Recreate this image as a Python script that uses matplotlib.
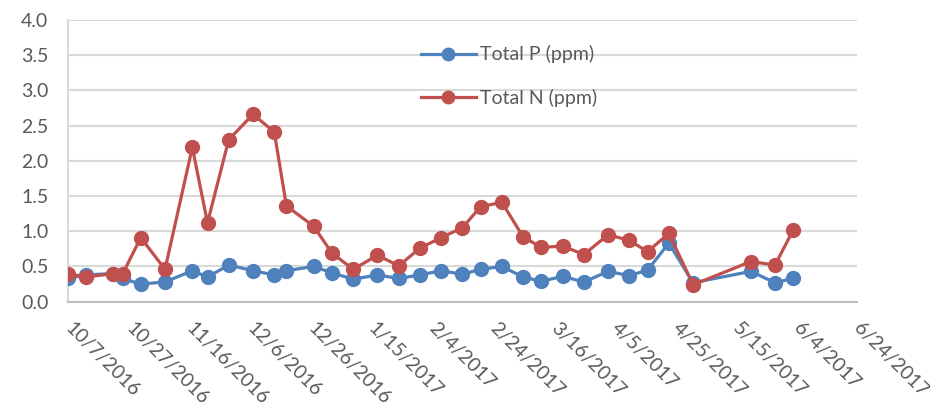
import matplotlib
matplotlib.use("Agg")
import matplotlib.pyplot as plt
import pandas as pd
import numpy as np

# sampling dates
dates = ["2016-10-07", "2016-10-13", "2016-10-22", "2016-10-25", "2016-10-31",
         "2016-11-08", "2016-11-17", "2016-11-22", "2016-11-29", "2016-12-07",
         "2016-12-14", "2016-12-18", "2016-12-27", "2017-01-02", "2017-01-09",
         "2017-01-17", "2017-01-24", "2017-01-31", "2017-02-07", "2017-02-14",
         "2017-02-20", "2017-02-27", "2017-03-06", "2017-03-12", "2017-03-19",
         "2017-03-26", "2017-04-03", "2017-04-10", "2017-04-16", "2017-04-23",
         "2017-05-01", "2017-05-20", "2017-05-28", "2017-06-03"]

total_p = [0.33, 0.38, 0.40, 0.33, 0.25, 0.28, 0.44, 0.35, 0.52, 0.44,
           0.38, 0.44, 0.50, 0.41, 0.32, 0.38, 0.33, 0.38, 0.44, 0.39,
           0.46, 0.50, 0.35, 0.29, 0.36, 0.28, 0.43, 0.37, 0.45, 0.83,
           0.27, 0.43, 0.27, 0.33]

total_n = [0.40, 0.35, 0.40, 0.39, 0.91, 0.46, 2.19, 1.12, 2.30, 2.66,
           2.41, 1.36, 1.07, 0.69, 0.46, 0.66, 0.51, 0.76, 0.91, 1.05,
           1.35, 1.41, 0.92, 0.77, 0.79, 0.67, 0.95, 0.87, 0.71, 0.97,
           0.24, 0.57, 0.52, 1.02]

x = pd.to_datetime(dates)

plt.rcParams['font.family'] = ['Lato', 'DejaVu Sans']

fig = plt.figure(figsize=(9.3, 4.15), dpi=100)
ax = fig.add_axes([0.073, 0.273, 0.8485, 0.679])

blue = "#4F81BD"
red = "#C0504D"

ax.plot(x, total_p, "-o", color=blue, lw=2.3, ms=10, label="Total P (ppm)", zorder=3)
ax.plot(x, total_n, "-o", color=red, lw=2.3, ms=10, label="Total N (ppm)", zorder=4)

# axes
start = pd.Timestamp("2016-10-07")
end = pd.Timestamp("2017-06-24")
ax.set_xlim(start, end)
ax.set_ylim(0, 4.0)
yt = np.arange(0, 4.01, 0.5)
ax.set_yticks(yt)
ax.set_yticklabels(["%.1f" % v for v in yt])

ticks = pd.date_range(start, end, freq="20D")
ax.set_xticks(ticks)
ax.set_xticklabels([f"{d.month}/{d.day}/{d.year}" for d in ticks])

ax.grid(axis="y", color="#D9D9D9", lw=1.5)
ax.set_axisbelow(True)
for s in ["top", "right"]:
    ax.spines[s].set_visible(False)
ax.spines["left"].set_color("#D9D9D9")
ax.spines["left"].set_linewidth(1.5)
ax.spines["bottom"].set_color("#BFBFBF")
ax.spines["bottom"].set_linewidth(1.5)

ax.tick_params(axis="both", length=0, labelsize=14, labelcolor="#595959")
ax.tick_params(axis="y", pad=14)
ax.tick_params(axis="x", pad=17)
for lab in ax.get_xticklabels():
    lab.set_rotation(-45)
    lab.set_ha("left")
    lab.set_va("center")
    lab.set_rotation_mode("anchor")

leg = ax.legend(loc="upper left", bbox_to_anchor=(0.434, 0.933), bbox_transform=fig.transFigure,
                frameon=False, fontsize=14, handlelength=2.8, labelspacing=1.3,
                handletextpad=0.25, markerscale=0.9)
for t in leg.get_texts():
    t.set_color("#595959")

fig.savefig("out.png", dpi=100)
